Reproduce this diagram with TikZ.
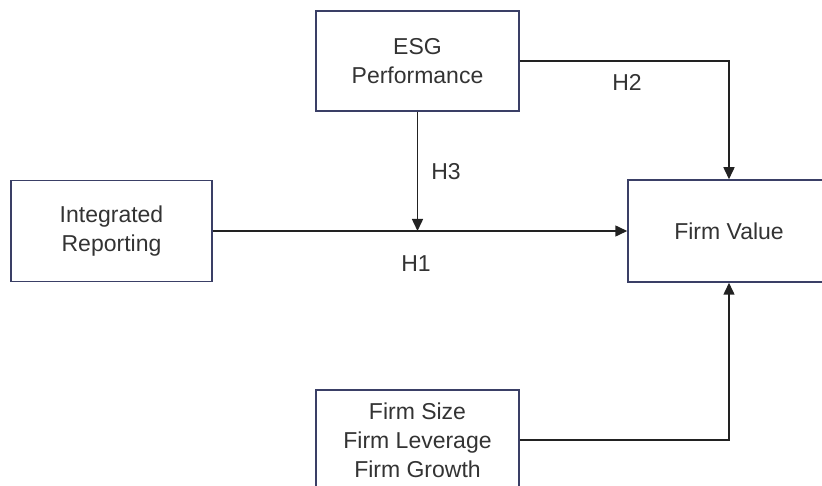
\documentclass[tikz,border=0pt]{standalone}
\usepackage{fontspec}
\setmainfont{Liberation Sans}
\usetikzlibrary{arrows.meta}
\definecolor{boxc}{HTML}{3A3F66}
\definecolor{linec}{HTML}{222222}
\definecolor{txtc}{HTML}{333333}
\begin{document}
\begin{tikzpicture}[x=1pt,y=-1pt,
  box/.style={draw=boxc, line width=1.5pt, rectangle, inner sep=0pt, align=center,
    text=txtc, font=\fontsize{23}{29}\selectfont},
  conn/.style={draw=linec, line width=1.5pt},
  arr/.style={conn, -{Triangle[length=12pt,width=11pt]}},
  lab/.style={text=txtc, font=\fontsize{23}{29}\selectfont}]
\useasboundingbox (0,0) rectangle (822,486);
\node[box, minimum width=203pt, minimum height=100pt] (esg) at (417.5,61) {ESG\\Performance};
\node[box, minimum width=201pt, minimum height=101pt] (ir) at (111.5,231) {Integrated\\Reporting};
\node[box, minimum width=202pt, minimum height=102pt] (fv) at (729,231) {Firm Value};
\node[box, minimum width=203pt, minimum height=100pt] (ctl) at (417.5,440) {Firm Size\\Firm Leverage\\Firm Growth};
\coordinate (m) at (esg.south |- ir.east);
\draw[arr] (esg.east) -| (fv.north);
\draw[arr] (ir.east) -- (fv.west);
\draw[arr] (esg.south) -- (m);
\draw[arr] (ctl.east) -| (fv.south);
\node[lab] (h2) at (627,82) {H2};
\node[lab] (h3) at (446,172) {H3};
\node[lab] (h1) at (416,264) {H1};
\end{tikzpicture}
\end{document}
